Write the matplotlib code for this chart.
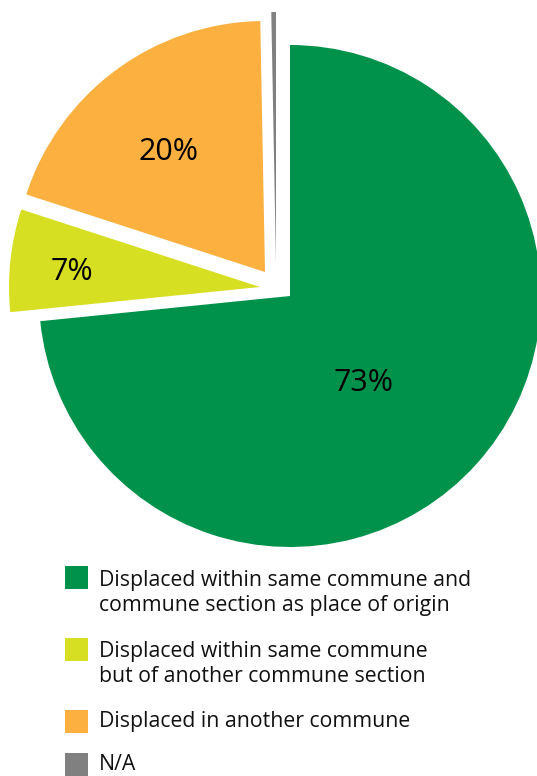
import matplotlib.pyplot as plt
from matplotlib.patches import Rectangle

# data
categories = ["Displaced within same commune and\ncommune section as place of origin",
              "Displaced within same commune\nbut of another commune section",
              "Displaced in another commune",
              "N/A"]
shares = [73.4, 6.6, 19.7, 0.3]
pct_labels = ["73%", "7%", "20%", None]
colors = ["#00924A", "#D7DF23", "#FBB040", "#808080"]

W, H = 537, 776
fig = plt.figure(figsize=(W / 100, H / 100), dpi=100)
ax = fig.add_axes([0, 0, 1, 1])

# pixel coords, y going up
cx, cy, r = 290, H - 296, 251
wedges, _ = ax.pie(shares, colors=colors, startangle=90, counterclock=False,
                   radius=r, center=(cx, cy), wedgeprops=dict(linewidth=0))

# exploded slices (offsets in px)
offsets = [(0, 0), (-30, 9), (-25, 24), (-14, 33)]
for w, (dx, dy) in zip(wedges, offsets):
    w.set_center((cx + dx, cy + dy))

ax.set_xlim(0, W)
ax.set_ylim(0, H)
ax.axis("off")

font = "Open Sans"
label_pos = [(364, 383), (72, 272), (168, 152), None]
for txt, pos in zip(pct_labels, label_pos):
    if txt is None:
        continue
    ax.text(pos[0], H - pos[1], txt, ha="center", va="center",
            fontsize=22, family=font, color="black")

# legend
box_y = [566, 638, 710, 753]
text_y = [593, 664, 721, 765]
for lab, col, by, ty in zip(categories, colors, box_y, text_y):
    ax.add_patch(Rectangle((65, H - by - 23), 23, 23, color=col, lw=0))
    ax.text(99, H - ty, lab, ha="left", va="center", fontsize=15.3,
            family=font, color="#111111", linespacing=1.3)

fig.savefig("out.png", dpi=100)
